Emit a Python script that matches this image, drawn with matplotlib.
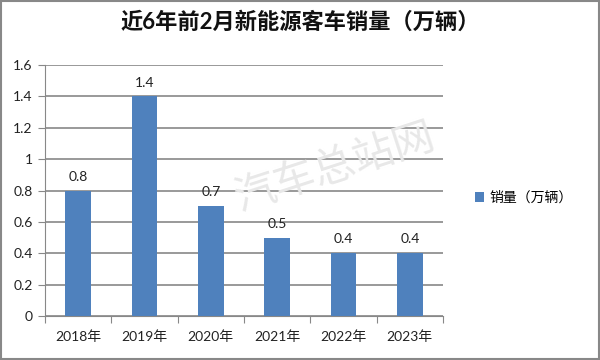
import matplotlib
matplotlib.use('Agg')
import matplotlib.pyplot as plt
from matplotlib.patches import Rectangle

# data
years = ['2018年', '2019年', '2020年', '2021年', '2022年', '2023年']
sales = [0.8, 1.4, 0.7, 0.5, 0.4, 0.4]
yticks = [0, 0.2, 0.4, 0.6, 0.8, 1, 1.2, 1.4, 1.6]
title = '近6年前2月新能源客车销量（万辆）'
series_name = '销量（万辆）'

plt.rcParams['font.family'] = ['Lato', 'Noto Sans CJK SC', 'DejaVu Sans']

fig = plt.figure(figsize=(6, 3.6), dpi=100)
ax = fig.add_axes([45 / 600, 1 - 316 / 360, 398 / 600, 251 / 360])

bar_color = '#4F81BD'
x = range(len(years))
bars = ax.bar(x, sales, width=0.39, color=bar_color, zorder=3, label=series_name)
for xi, v in zip(x, sales):
    ax.text(xi, v + 0.05, f'{v:g}', ha='center', va='bottom', fontsize=10, color='#222222')

ax.set_xlim(-0.5, len(years) - 0.5)
ax.set_ylim(0, 1.6)
ax.set_yticks(yticks)
ax.set_yticklabels([f'{t:g}' for t in yticks])
# category separators as major ticks, labels on minor ticks
ax.set_xticks([i + 0.5 for i in range(-1, len(years))], minor=False)
ax.set_xticklabels([''] * (len(years) + 1))
ax.set_xticks(list(x), minor=True)
ax.set_xticklabels(years, minor=True)
ax.tick_params(axis='x', which='minor', length=0, pad=10, labelsize=10, colors='#222222')
ax.tick_params(axis='x', which='major', length=5, color='#888888')
ax.tick_params(axis='y', length=5, color='#888888', labelsize=10, labelcolor='#222222', pad=4)
ax.yaxis.grid(True, color='#888888', linewidth=1.2, zorder=0)
for s in ['top', 'right']:
    ax.spines[s].set_visible(False)
ax.spines['left'].set_color('#888888')
ax.spines['bottom'].set_color('#888888')

fig.text(0.5, 1 - 22 / 360, title, ha='center', va='center', fontsize=16,
         fontweight='bold', color='#111111')

# watermark
fig.text(335 / 600, 1 - 168 / 360, '汽车总站网', ha='center', va='center', fontsize=30,
         rotation=18, color='#e8e8e8', zorder=0, fontweight='light',
         family=['Noto Sans CJK SC'])

# legend
fig.legend(handles=[bars], labels=[series_name], loc='center left',
           bbox_to_anchor=(462 / 600, 1 - 197 / 360), frameon=False, fontsize=10,
           handlelength=0.7, handleheight=0.7, handletextpad=0.4)

# outer border
fig.patches.append(Rectangle((0.002, 0.003), 0.996, 0.994, transform=fig.transFigure,
                             fill=False, edgecolor='#888888', linewidth=1.5))

fig.savefig('out.png', dpi=100)
